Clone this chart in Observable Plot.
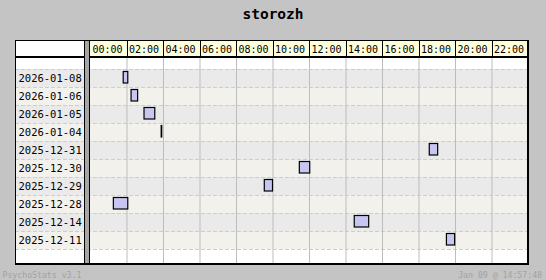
<!DOCTYPE html>
<html>
<head>
<meta charset="utf-8">
<script src="https://cdn.jsdelivr.net/npm/d3@7"></script>
<script src="https://cdn.jsdelivr.net/npm/@observablehq/plot@0.6"></script>
<style>
  html, body { margin: 0; padding: 0; background: #c4c4c4; }
  body { width: 546px; height: 280px; overflow: hidden; }
  svg { display: block; }
</style>
</head>
<body>
<div id="chart"></div>
<script>
// ---- data ----
const titleText = "storozh";
const dates  = ["2026-01-08","2026-01-06","2026-01-05","2026-01-04","2025-12-31","2025-12-30","2025-12-29","2025-12-28","2025-12-14","2025-12-11"];
const starts = [1.82, 2.25, 2.96, 3.90, 18.59, 11.47, 9.55, 1.28, 14.48, 19.53];
const ends   = [2.07, 2.61, 3.55, 3.93, 19.05, 12.04, 10.00, 2.07, 15.27, 19.98];
const hourTicks  = [0, 2, 4, 6, 8, 10, 12, 14, 16, 18, 20, 22];
const tickLabels = ["00:00","02:00","04:00","06:00","08:00","10:00","12:00","14:00","16:00","18:00","20:00","22:00"];
const footerLeft  = "PsychoStats v3.1";
const footerRight = "Jan 09 @ 14:57:48";

const rows = dates.map((d, i) => ({date: d, i, start: starts[i], end: ends[i]}));
const mono = "'DejaVu Sans Mono', monospace";

const W = 546, H = 280;
const plot = Plot.plot({
  width: W, height: H,
  marginLeft: 15, marginRight: 18, marginTop: 68, marginBottom: 31,
  style: {background: "transparent", fontFamily: mono, overflow: "visible"},
  x: {domain: [0, 24], range: [90, 528], axis: null},
  y: {domain: dates, padding: 0, axis: null},
  marks: [
    Plot.cell(rows.filter(r => r.i % 2 === 0), {y: "date", fill: "#eaeaea"}),
    Plot.cell(rows.filter(r => r.i % 2 === 1), {y: "date", fill: "#f3f1ec"}),
    Plot.ruleX(hourTicks.slice(1), {x: d => d, stroke: "#bdbdbd", strokeWidth: 1, insetTop: -10, insetBottom: -14}),
    Plot.text(rows, {y: "date", text: "date", frameAnchor: "left", dx: 3, textAnchor: "start", fontSize: 10.5, fill: "#000"}),
    Plot.barX(rows, {x1: "start", x2: "end", y: "date", fill: "#c6c6f0", stroke: "#000", strokeWidth: 1.2, insetTop: 2.5, insetBottom: 4})
  ]
});

document.getElementById("chart").appendChild(plot);

const svg = d3.select(plot);
const xs = plot.scale("x"), ys = plot.scale("y");
const X = v => xs.apply(v);
const bw = ys.bandwidth;
const yBot = ys.apply(dates[dates.length - 1]) + bw;

const L = 15, R = 528, T = 40, B = 264, HB = 56;

// background (white) behind everything
const bg = svg.insert("g", ":first-child");
bg.append("rect").attr("x", 0).attr("y", 0).attr("width", W).attr("height", H).attr("fill", "#c4c4c4");
bg.append("rect").attr("x", L).attr("y", T).attr("width", R - L).attr("height", B - T).attr("fill", "#fff");

// dashed row separators, placed after cells (before rules)
const firstRule = plot.querySelector('[aria-label="rule"]');
const dash = svg.insert("g", () => firstRule);
const lineYs = dates.map(d => ys.apply(d)).concat([yBot]);
dash.selectAll("line").data(lineYs).join("line")
  .attr("x1", L).attr("x2", R).attr("y1", d => Math.round(d) + 0.5).attr("y2", d => Math.round(d) + 0.5)
  .attr("stroke", "#cdcdcd").attr("stroke-dasharray", "4,2");

// chrome on top
const chrome = svg.append("g").attr("text-anchor", "start");
// header row
chrome.append("rect").attr("x", X(0)).attr("y", T).attr("width", X(24) - X(0)).attr("height", HB - T).attr("fill", "#ffffdc");
chrome.selectAll("line.hs").data(hourTicks.slice(1)).join("line").attr("class", "hs")
  .attr("x1", d => Math.round(X(d)) + 0.5).attr("x2", d => Math.round(X(d)) + 0.5)
  .attr("y1", T).attr("y2", HB).attr("stroke", "#000");
chrome.selectAll("text.ht").data(hourTicks).join("text").attr("class", "ht")
  .attr("x", d => X(d) + 2.5).attr("y", 53).attr("text-anchor", "start")
  .attr("font-family", mono).attr("font-size", 10).attr("fill", "#000")
  .text((d, i) => tickLabels[i]);
// header bottom thick line
chrome.append("rect").attr("x", L).attr("y", HB).attr("width", R - L).attr("height", 2).attr("fill", "#000");
// label column separator
chrome.append("rect").attr("x", 84).attr("y", T).attr("width", 6).attr("height", B - T).attr("fill", "#a6a6a6");
chrome.append("rect").attr("x", 84).attr("y", T).attr("width", 1).attr("height", B - T).attr("fill", "#000");
chrome.append("rect").attr("x", 89).attr("y", T).attr("width", 1).attr("height", B - T).attr("fill", "#000");
// outer frame
chrome.append("rect").attr("x", L).attr("y", T).attr("width", R - L).attr("height", 1).attr("fill", "#000");
chrome.append("rect").attr("x", L).attr("y", T).attr("width", 1).attr("height", B - T).attr("fill", "#000");
chrome.append("rect").attr("x", R - 1).attr("y", T).attr("width", 2).attr("height", B - T + 1).attr("fill", "#000");
chrome.append("rect").attr("x", L).attr("y", B - 1).attr("width", R - L + 1).attr("height", 2).attr("fill", "#000");

// title and footer
chrome.append("text").attr("x", 273).attr("y", 19).attr("text-anchor", "middle")
  .attr("font-family", mono).attr("font-weight", "bold").attr("font-size", 14.5).attr("fill", "#000")
  .text(titleText);
chrome.append("text").attr("x", 2.5).attr("y", 278).attr("text-anchor", "start")
  .attr("font-family", mono).attr("font-size", 8.2).attr("fill", "#a2a2a2").text(footerLeft);
chrome.append("text").attr("x", 542).attr("y", 278).attr("text-anchor", "end")
  .attr("font-family", mono).attr("font-size", 8.2).attr("fill", "#a2a2a2").text(footerRight);
</script>
</body>
</html>
